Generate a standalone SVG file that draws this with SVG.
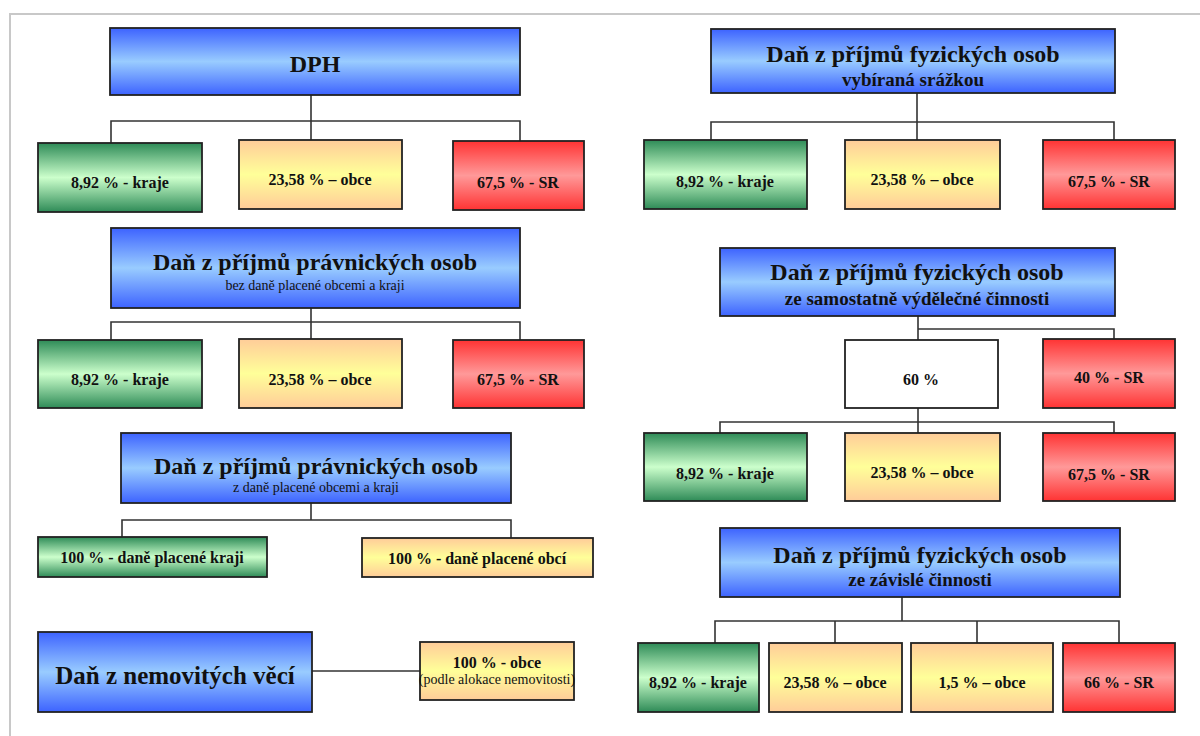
<svg xmlns="http://www.w3.org/2000/svg" width="1200" height="736" viewBox="0 0 1200 736">
<defs>
<linearGradient id="gBlue" x1="0" y1="0" x2="0" y2="1">
<stop offset="0" stop-color="#3d63ff"/><stop offset="0.5" stop-color="#99ccff"/><stop offset="1" stop-color="#3d63ff"/>
</linearGradient>
<linearGradient id="gGreen" x1="0" y1="0" x2="0" y2="1">
<stop offset="0" stop-color="#2e8b57"/><stop offset="0.5" stop-color="#ccffcc"/><stop offset="1" stop-color="#2e8b57"/>
</linearGradient>
<linearGradient id="gYellow" x1="0" y1="0" x2="0" y2="1">
<stop offset="0" stop-color="#ffcc99"/><stop offset="0.5" stop-color="#ffff99"/><stop offset="1" stop-color="#ffcc99"/>
</linearGradient>
<linearGradient id="gRed" x1="0" y1="0" x2="0" y2="1">
<stop offset="0" stop-color="#ff3333"/><stop offset="0.5" stop-color="#ff9999"/><stop offset="1" stop-color="#ff3333"/>
</linearGradient>
</defs>
<style>
.box{stroke:#222;stroke-width:1.8}
.blue{fill:url(#gBlue)}
.green{fill:url(#gGreen)}
.yellow{fill:url(#gYellow)}
.red{fill:url(#gRed)}
.white{fill:#fff}
text{font-family:"Liberation Serif","Times New Roman",serif;fill:#111;text-anchor:middle}
.t{font-size:24px;font-weight:bold}
.s{font-size:19px;font-weight:bold}
.r{font-size:14px}
.l{font-size:16px;font-weight:bold}
.conn path{fill:none;stroke:#333;stroke-width:1.6}
</style>
<rect width="1200" height="736" fill="#fff"/>
<path d="M10,736 V14 H1200" fill="none" stroke="#c8c8c8" stroke-width="2"/>

<g class="conn">
<path d="M311,95 V121 M111,143 V121 H520 V141 M311,121 V140"/>
<path d="M917,93 V122 M711,140 V122 H1114 V140 M917,122 V140"/>
<path d="M311,308 V322 M111,340 V322 H520 V340 M311,322 V339"/>
<path d="M918,316 V340 M918,329 H1114 V339"/>
<path d="M918,408 V422 M720,433 V422 H1114 V433 M918,422 V433"/>
<path d="M311,503 V520 M122,537 V520 H511 V538"/>
<path d="M312,671 H420"/>
<path d="M902,597 V621 M715,643 V621 H1119 V643 M835,621 V643 M977,621 V643"/>
</g>

<g id="dph"><rect class="box blue" x="110" y="28" width="410" height="67" stroke-width="3"/><text class="t" x="315" y="72">DPH</text></g>
<g id="dph-kraje"><rect class="box green" x="38" y="143" width="164" height="69"/><text class="l" x="120" y="188">8,92 % - kraje</text></g>
<g id="dph-obce"><rect class="box yellow" x="239" y="140" width="163" height="69"/><text class="l" x="320" y="185">23,58 % – obce</text></g>
<g id="dph-sr"><rect class="box red" x="453" y="141" width="131" height="69"/><text class="l" x="518" y="188">67,5 % - SR</text></g>

<g id="dpfo-srazka"><rect class="box blue" x="711" y="29" width="404" height="64"/><text class="t" x="913" y="62">Daň z příjmů fyzických osob</text><text class="s" x="913" y="86">vybíraná srážkou</text></g>
<g id="dpfo1-kraje"><rect class="box green" x="644" y="140" width="163" height="69"/><text class="l" x="725" y="187">8,92 % - kraje</text></g>
<g id="dpfo1-obce"><rect class="box yellow" x="845" y="140" width="155" height="69"/><text class="l" x="922" y="185">23,58 % – obce</text></g>
<g id="dpfo1-sr"><rect class="box red" x="1043" y="140" width="132" height="69"/><text class="l" x="1109" y="187">67,5 % - SR</text></g>

<g id="dppo-bez"><rect class="box blue" x="111" y="228" width="409" height="80"/><text class="t" x="315" y="270">Daň z příjmů právnických osob</text><text class="r" x="315" y="290">bez daně placené obcemi a kraji</text></g>
<g id="dppo-kraje"><rect class="box green" x="38" y="340" width="164" height="68"/><text class="l" x="120" y="385">8,92 % - kraje</text></g>
<g id="dppo-obce"><rect class="box yellow" x="239" y="339" width="163" height="69"/><text class="l" x="320" y="385">23,58 % – obce</text></g>
<g id="dppo-sr"><rect class="box red" x="453" y="340" width="131" height="68"/><text class="l" x="518" y="385">67,5 % - SR</text></g>

<g id="dpfo-svc"><rect class="box blue" x="720" y="248" width="395" height="68"/><text class="t" x="917" y="280">Daň z příjmů fyzických osob</text><text class="s" x="917" y="305">ze samostatně výdělečné činnosti</text></g>
<g id="p60"><rect class="box white" x="845" y="340" width="153" height="68"/><text class="l" x="921" y="385">60 %</text></g>
<g id="p40"><rect class="box red" x="1043" y="339" width="132" height="69"/><text class="l" x="1109" y="383">40 % - SR</text></g>
<g id="svc-kraje"><rect class="box green" x="644" y="433" width="163" height="68"/><text class="l" x="725" y="479">8,92 % - kraje</text></g>
<g id="svc-obce"><rect class="box yellow" x="845" y="433" width="155" height="68"/><text class="l" x="922" y="478">23,58 % – obce</text></g>
<g id="svc-sr"><rect class="box red" x="1043" y="433" width="132" height="68"/><text class="l" x="1109" y="480">67,5 % - SR</text></g>

<g id="dppo-z"><rect class="box blue" x="121" y="433" width="390" height="70"/><text class="t" x="316" y="474">Daň z příjmů právnických osob</text><text class="r" x="316" y="492">z daně placené obcemi a kraji</text></g>
<g id="dppo-z-kraje"><rect class="box green" x="38" y="537" width="229" height="40"/><text class="l" x="152" y="563">100 % - daně placené kraji</text></g>
<g id="dppo-z-obce"><rect class="box yellow" x="362" y="538" width="231" height="39"/><text class="l" x="477" y="564">100 % - daně placené obcí</text></g>

<g id="dnv"><rect class="box blue" x="38" y="632" width="274" height="80"/><text class="t" x="175" y="684" style="font-size:25px">Daň z nemovitých věcí</text></g>
<g id="dnv-obce"><rect class="box yellow" x="420" y="642" width="154" height="58"/><text class="l" x="497" y="668">100 % - obce</text><text class="r" x="497" y="684">(podle alokace nemovitosti)</text></g>

<g id="dpfo-zc"><rect class="box blue" x="720" y="528" width="400" height="69"/><text class="t" x="920" y="563">Daň z příjmů fyzických osob</text><text class="s" x="920" y="586">ze závislé činnosti</text></g>
<g id="zc-kraje"><rect class="box green" x="638" y="643" width="121" height="69"/><text class="l" x="698" y="688">8,92 % - kraje</text></g>
<g id="zc-obce"><rect class="box yellow" x="769" y="643" width="133" height="69"/><text class="l" x="835" y="688">23,58 % – obce</text></g>
<g id="zc-obce2"><rect class="box yellow" x="911" y="643" width="142" height="69"/><text class="l" x="982" y="688">1,5 % – obce</text></g>
<g id="zc-sr"><rect class="box red" x="1063" y="643" width="112" height="69"/><text class="l" x="1119" y="688">66 % - SR</text></g>
</svg>
